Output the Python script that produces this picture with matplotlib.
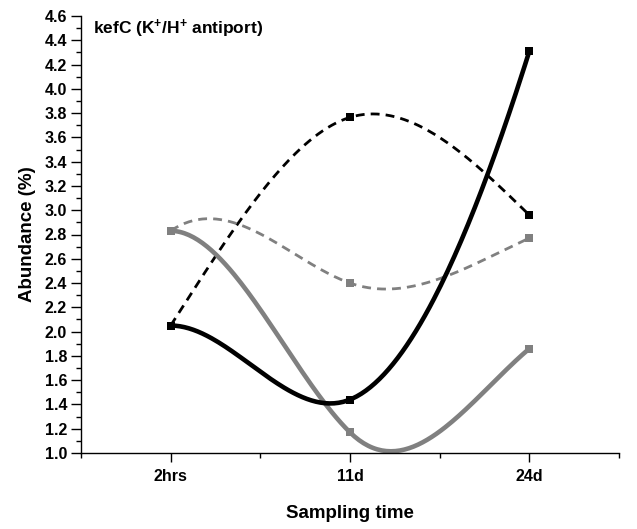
import numpy as np
import matplotlib
matplotlib.use("Agg")
import matplotlib.pyplot as plt
from matplotlib.ticker import MultipleLocator, FormatStrFormatter

plt.rcParams['font.family'] = ['Liberation Sans', 'DejaVu Sans']
plt.rcParams['font.weight'] = 'bold'
plt.rcParams['mathtext.fontset'] = 'custom'
plt.rcParams['mathtext.rm'] = 'Liberation Sans:bold'
plt.rcParams['mathtext.it'] = 'Liberation Sans:bold'
plt.rcParams['mathtext.bf'] = 'Liberation Sans:bold'

# ---- data ----
categories = ["2hrs", "11d", "24d"]
black_solid = [2.05, 1.44, 4.31]
black_dashed = [2.05, 3.765, 2.96]
gray_dashed = [2.83, 2.40, 2.77]
gray_solid = [2.83, 1.17, 1.86]
# tangent slopes of the smoothed connecting curves (per category step)
black_solid_slopes = [0.0, 0.6, 4.7]
black_dashed_slopes = [2.3, 0.45, -1.44]
gray_dashed_slopes = [1.0, -0.52, 0.67]
gray_solid_slopes = [0.0, -1.45, 1.25]

title = r"kefC (K$^{+}$/H$^{+}$ antiport)"
xlabel = "Sampling time"
ylabel = "Abundance (%)"


def hermite(xs, ys, ms, n=80):
    X, Y = [], []
    for i in range(len(xs) - 1):
        h = xs[i + 1] - xs[i]
        t = np.linspace(0, 1, n)
        h00 = 2 * t**3 - 3 * t**2 + 1
        h10 = t**3 - 2 * t**2 + t
        h01 = -2 * t**3 + 3 * t**2
        h11 = t**3 - t**2
        X.append(xs[i] + t * h)
        Y.append(h00 * ys[i] + h10 * h * ms[i] + h01 * ys[i + 1] + h11 * h * ms[i + 1])
    return np.concatenate(X), np.concatenate(Y)


fig = plt.figure(figsize=(6.37, 5.29), dpi=100)
ax = fig.add_axes([81 / 637, 1 - 453 / 529, (619 - 81) / 637, (453 - 16) / 529])

x = np.arange(len(categories))
gray = "#808080"

series = [
    (black_dashed, black_dashed_slopes, "black", (0, (3.2, 2.2)), 2.0),
    (gray_dashed, gray_dashed_slopes, gray, (0, (3.2, 2.2)), 2.0),
    (gray_solid, gray_solid_slopes, gray, "-", 3.3),
    (black_solid, black_solid_slopes, "black", "-", 3.3),
]
for ys, ms, col, ls, lw in series:
    cx, cy = hermite(x, ys, ms)
    ax.plot(cx, cy, color=col, linestyle=ls, linewidth=lw, zorder=2)
    ax.plot(x, ys, linestyle="none", marker="s", markersize=6, color=col,
            markeredgewidth=0, zorder=3)

ax.set_xlim(-0.5, 2.5)
ax.set_ylim(1.0, 4.6)
ax.set_xticks(x)
ax.set_xticklabels(categories)
ax.xaxis.set_minor_locator(MultipleLocator(0.5))
ax.yaxis.set_major_locator(MultipleLocator(0.2))
ax.yaxis.set_minor_locator(MultipleLocator(0.1))
ax.yaxis.set_major_formatter(FormatStrFormatter('%.1f'))

for side in ["top", "right"]:
    ax.spines[side].set_visible(False)
for side in ["left", "bottom"]:
    ax.spines[side].set_linewidth(1.0)

ax.tick_params(axis='y', which='major', direction='out', length=7, width=1.0,
               labelsize=11.5, pad=3)
ax.tick_params(axis='y', which='minor', direction='out', length=3.5, width=1.0)
ax.tick_params(axis='x', which='major', direction='out', length=6.5, width=1.0,
               labelsize=11.5, pad=5)
ax.tick_params(axis='x', which='minor', direction='out', length=3.6, width=1.0)

ax.set_xlabel(xlabel, fontsize=13.5, fontweight='bold', labelpad=15)
ax.set_ylabel(ylabel, fontsize=13.5, fontweight='bold', labelpad=6)

ax.text(93 / 637, 1 - 29 / 529, title, transform=fig.transFigure, fontsize=12.5,
        fontweight='bold', ha='left', va='center')

fig.savefig("out.png", dpi=100)
